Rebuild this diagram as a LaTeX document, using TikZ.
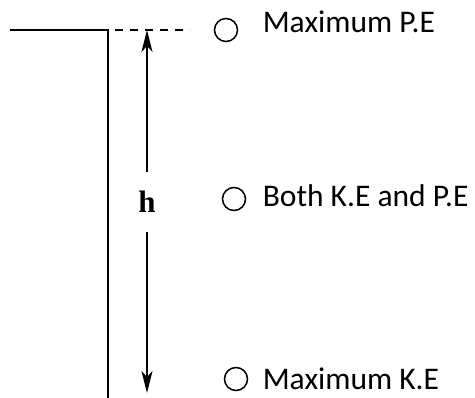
\documentclass[tikz,border=0pt]{standalone}
\usepackage{fontspec}
\setmainfont{Carlito}
\newfontfamily\hfont{Liberation Serif}
\usetikzlibrary{arrows.meta}
\begin{document}
\begin{tikzpicture}[x=1pt, y=-1pt, line width=1.6pt,
  state/.style={draw, circle, minimum size=23pt, inner sep=0pt, line width=1.5pt},
  label/.style={anchor=base west, inner sep=0pt, font=\fontsize{31.5}{36}\selectfont},
  tip/.style={-{Stealth[length=22pt, width=11pt, inset=6pt]}}]
\useasboundingbox (0,0) rectangle (475,398);
\draw (10,30) -- (108,30) -- (108,398);
\draw[dash pattern=on 8pt off 7pt] (115,30) -- (190,30);
\node[state] (top) at (226,30) {};
\node[state] (mid) at (234,199) {};
\node[state] (bot) at (236,379) {};
\node[label] (maxpe) at (262,33) {Maximum P.E};
\node[label] (both) at (262,207) {Both K.E and P.E};
\node[label] (maxke) at (262,390) {Maximum K.E};
\node[inner sep=0pt, minimum height=59pt, font=\hfont\bfseries\fontsize{31}{36}\selectfont] (h) at (147,202) {h};
\coordinate (hi) at (147,30);
\coordinate (lo) at (147,393);
\draw[tip] (h.north) -- (hi);
\draw[tip] (h.south) -- (lo);
\end{tikzpicture}
\end{document}
